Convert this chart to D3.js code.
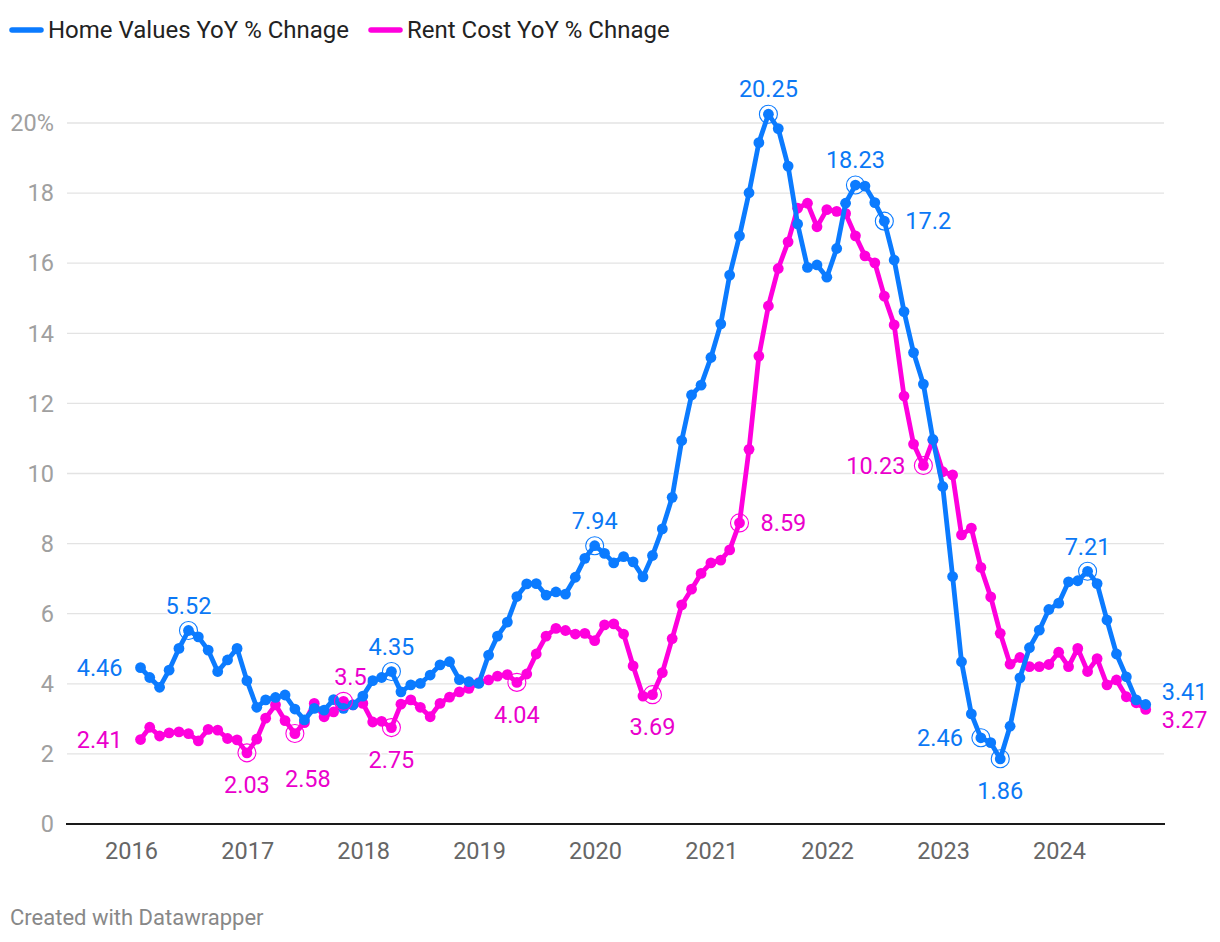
<!DOCTYPE html>
<html>
<head>
<meta charset="utf-8">
<script src="https://cdn.jsdelivr.net/npm/d3@7"></script>
<style>
  html, body { margin: 0; padding: 0; background: #fff; }
  svg { display: block; font-family: Roboto, "Noto Sans", sans-serif; }
</style>
</head>
<body>
<svg id="chart" width="1220" height="942"></svg>
<script>
// ---------- DATA ----------
const seriesNames = ["Home Values YoY % Chnage", "Rent Cost YoY % Chnage"];
const firstMonth = "2016-01";   // monthly observations, Jan 2016 .. Sep 2024
const yearTicks = [2016, 2017, 2018, 2019, 2020, 2021, 2022, 2023, 2024];
const yTicks = [0, 2, 4, 6, 8, 10, 12, 14, 16, 18, 20];

const homeValues = [
  4.46, 4.18, 3.90, 4.39, 5.01, 5.52, 5.34, 4.96, 4.35, 4.68, 5.01, 4.09,
  3.33, 3.54, 3.61, 3.68, 3.28, 2.97, 3.30, 3.25, 3.55, 3.30, 3.40, 3.65,
  4.09, 4.18, 4.35, 3.77, 3.97, 4.01, 4.25, 4.54, 4.63, 4.12, 4.06, 4.01,
  4.82, 5.36, 5.76, 6.49, 6.85, 6.86, 6.53, 6.62, 6.56, 7.04, 7.58, 7.94,
  7.72, 7.45, 7.63, 7.48, 7.05, 7.66, 8.42, 9.32, 10.94, 12.24, 12.52, 13.31,
  14.27, 15.66, 16.78, 18.01, 19.44, 20.25, 19.84, 18.77, 17.12, 15.88, 15.95, 15.60,
  16.42, 17.71, 18.23, 18.20, 17.73, 17.20, 16.09, 14.62, 13.45, 12.55, 10.97, 9.63,
  7.06, 4.63, 3.14, 2.46, 2.32, 1.86, 2.79, 4.17, 5.03, 5.53, 6.12, 6.30,
  6.91, 6.94, 7.21, 6.86, 5.82, 4.85, 4.20, 3.54, 3.41
];
const rentCost = [
  2.41, 2.76, 2.51, 2.60, 2.63, 2.58, 2.37, 2.70, 2.68, 2.44, 2.40, 2.03,
  2.42, 3.02, 3.40, 2.95, 2.58, 2.89, 3.44, 3.06, 3.20, 3.50, 3.40, 3.44,
  2.91, 2.93, 2.75, 3.42, 3.54, 3.33, 3.06, 3.44, 3.62, 3.77, 3.87, 4.03,
  4.11, 4.22, 4.26, 4.04, 4.28, 4.85, 5.36, 5.58, 5.52, 5.42, 5.44, 5.23,
  5.68, 5.71, 5.42, 4.51, 3.65, 3.69, 4.32, 5.29, 6.25, 6.70, 7.15, 7.45,
  7.53, 7.82, 8.59, 10.69, 13.35, 14.78, 15.85, 16.61, 17.57, 17.71, 17.04, 17.53,
  17.48, 17.42, 16.78, 16.21, 16.01, 15.06, 14.24, 12.21, 10.84, 10.23, 10.95, 10.05,
  9.96, 8.25, 8.44, 7.32, 6.48, 5.44, 4.56, 4.75, 4.49, 4.49, 4.55, 4.90,
  4.49, 5.01, 4.35, 4.72, 3.97, 4.11, 3.63, 3.46, 3.27
];

// annotated points: month, placement
const homeNotes = [
  ["2016-01", "left"], ["2016-06", "above"], ["2018-03", "above"], ["2019-12", "above"],
  ["2021-06", "above"], ["2022-03", "above"], ["2022-06", "right"], ["2023-04", "left"],
  ["2023-06", "below"], ["2024-03", "above"], ["2024-09", "rightUp"]
];
const rentNotes = [
  ["2016-01", "left"], ["2016-12", "below"], ["2017-05", "belowR"], ["2017-10", "aboveR"],
  ["2018-03", "below"], ["2019-04", "below"], ["2020-06", "below"], ["2021-03", "right"],
  ["2022-10", "left"], ["2024-09", "rightDown"]
];

// ---------- SETUP ----------
const colors = ["#0b7bff", "#ff00dd"];
const textColors = ["#0b78f5", "#ea00cc"];
const svg = d3.select("#chart");
const parseMonth = d3.timeParse("%Y-%m");
const start = parseMonth(firstMonth);
const monthEnd = i => d3.timeDay.offset(d3.timeMonth.offset(start, i + 1), -1);
const series = [homeValues, rentCost].map((vals, s) =>
  vals.map((v, i) => ({ date: monthEnd(i), value: v, key: d3.timeFormat("%Y-%m")(d3.timeMonth.offset(start, i)), s })));

const x = d3.scaleTime()
  .domain([new Date(2016, 0, 1), new Date(2024, 0, 1)])
  .range([131, 1059]);
const y = d3.scaleLinear().domain([0, 20]).range([824, 123]);

// ---------- GRID & Y AXIS ----------
svg.append("g").selectAll("line").data(yTicks.filter(d => d > 0)).join("line")
  .attr("x1", 67).attr("x2", 1164)
  .attr("y1", d => y(d)).attr("y2", d => y(d))
  .attr("stroke", "#e3e3e3").attr("stroke-width", 1.3);

svg.append("g").selectAll("text").data(yTicks).join("text")
  .attr("x", 54)
  .attr("y", d => y(d))
  .attr("dy", "0.35em")
  .attr("text-anchor", "end")
  .attr("font-size", 23.5)
  .attr("fill", "#a0a0a0")
  .text(d => d === 20 ? "20%" : d);

svg.append("line")
  .attr("x1", 66).attr("x2", 1165)
  .attr("y1", y(0)).attr("y2", y(0))
  .attr("stroke", "#1a1a1a").attr("stroke-width", 2);

// ---------- X AXIS ----------
const xAxis = d3.axisBottom(x)
  .tickValues(yearTicks.map(yr => new Date(yr, 0, 1)))
  .tickFormat(d3.timeFormat("%Y"))
  .tickSize(0).tickPadding(0);
const xg = svg.append("g").attr("transform", `translate(0, ${y(0)})`).call(xAxis);
xg.select(".domain").remove();
xg.selectAll("text")
  .attr("y", 27).attr("dy", "0.35em")
  .attr("font-size", 23.5).attr("font-family", "Roboto, sans-serif")
  .attr("fill", "#666");

// ---------- LINES ----------
const line = d3.line().x(d => x(d.date)).y(d => y(d.value)).curve(d3.curveLinear);
[1, 0].forEach(s => {
  const g = svg.append("g");
  g.append("path").datum(series[s])
    .attr("d", line)
    .attr("fill", "none")
    .attr("stroke", colors[s])
    .attr("stroke-width", 4.8)
    .attr("stroke-linejoin", "round")
    .attr("stroke-linecap", "round");
  g.selectAll("circle").data(series[s]).join("circle")
    .attr("cx", d => x(d.date)).attr("cy", d => y(d.value))
    .attr("r", 5.4).attr("fill", colors[s]);
});

// ---------- ANNOTATIONS ----------
const placement = {
  above:     { dx: 0,  dy: -25, anchor: "middle", ring: true },
  aboveR:    { dx: 7,  dy: -25, anchor: "middle", ring: true },
  below:     { dx: 0,  dy: 32,  anchor: "middle", ring: true },
  belowR:    { dx: 13, dy: 45,  anchor: "middle", ring: true },
  left:      { dx: -18, dy: 0,  anchor: "end",    ring: true },
  right:     { dx: 21, dy: 0,   anchor: "start",  ring: true },
  rightUp:   { dx: 16, dy: -13, anchor: "start",  ring: false },
  rightDown: { dx: 16, dy: 10,  anchor: "start",  ring: false }
};
const noteG = svg.append("g");
[homeNotes, rentNotes].forEach((notes, s) => {
  notes.forEach(([key, pos]) => {
    const d = series[s].find(p => p.key === key);
    const p = placement[pos];
    const isFirst = d === series[s][0];
    const cx = x(d.date), cy = y(d.value);
    if (p.ring && !isFirst) {
      noteG.append("circle")
        .attr("cx", cx).attr("cy", cy).attr("r", 9)
        .attr("fill", "none").attr("stroke", colors[s]).attr("stroke-width", 1.1);
    }
    noteG.append("text")
      .attr("x", cx + p.dx).attr("y", cy + p.dy)
      .attr("dy", "0.35em")
      .attr("text-anchor", p.anchor)
      .attr("font-size", 23.5)
      .attr("fill", textColors[s])
      .attr("paint-order", "stroke")
      .attr("stroke", "#fff").attr("stroke-width", 3).attr("stroke-linejoin", "round")
      .text(d3.format("")(d.value));
  });
});

// ---------- LEGEND ----------
const legend = svg.append("g");
const legendX = [10, 369];
seriesNames.forEach((name, s) => {
  legend.append("line")
    .attr("x1", legendX[s] + 2).attr("x2", legendX[s] + 31)
    .attr("y1", 30).attr("y2", 30)
    .attr("stroke", colors[s]).attr("stroke-width", 5.5).attr("stroke-linecap", "round");
  legend.append("text")
    .attr("x", legendX[s] + 38).attr("y", 30).attr("dy", "0.35em")
    .attr("font-size", 24).attr("fill", "#222")
    .text(name);
});

// ---------- FOOTER ----------
svg.append("text")
  .attr("x", 10).attr("y", 917).attr("dy", "0.35em")
  .attr("font-size", 22).attr("fill", "#888")
  .text("Created with Datawrapper");
</script>
</body>
</html>
